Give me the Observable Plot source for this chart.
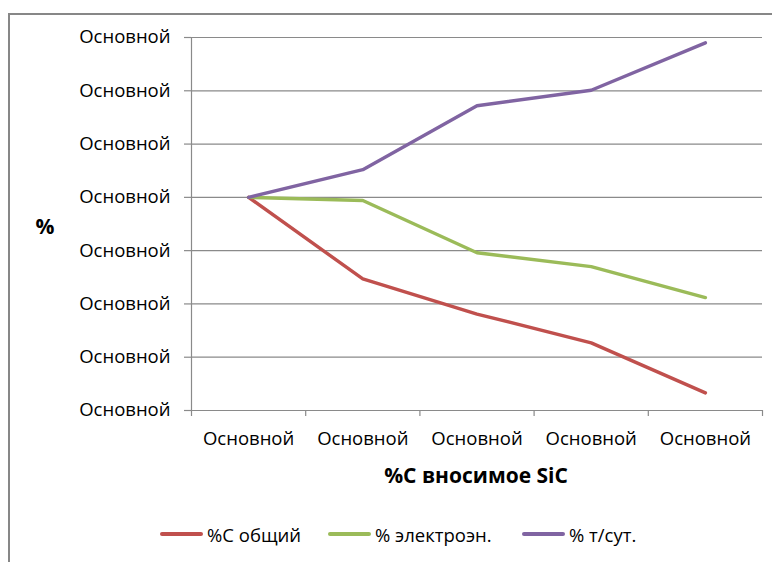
<!DOCTYPE html>
<html>
<head>
<meta charset="utf-8">
<script src="https://cdn.jsdelivr.net/npm/d3@7"></script>
<script src="https://cdn.jsdelivr.net/npm/@observablehq/plot@0.6"></script>
<style>
  html, body { margin: 0; padding: 0; width: 772px; height: 562px; overflow: hidden; background: #fff; }
  #wrap { position: relative; width: 772px; height: 562px; font-family: "Open Sans", sans-serif; }
  #frame { position: absolute; left: 8px; top: 13px; width: 900px; height: 700px; border-left: 2px solid #878787; border-top: 2px solid #878787; }
  #chart { position: absolute; left: 0; top: 0; }
  #legend { position: absolute; top: 522px; left: 0; width: 772px; height: 24px; font-size: 18.5px; color: #000; }
  .li { position: absolute; top: 0; display: flex; align-items: center; height: 24px; white-space: nowrap; }
  .sw { display: inline-block; width: 43px; height: 3.5px; margin-right: 4px; border-radius: 2px; }
</style>
</head>
<body>
<div id="wrap">
  <div id="frame"></div>
  <div id="chart"></div>
  <div id="legend"></div>
</div>
<script>
const categories = ["Основной", "Основной", "Основной", "Основной", "Основной"];
const yTickLabels = ["Основной", "Основной", "Основной", "Основной", "Основной", "Основной", "Основной", "Основной"];
const seriesNames = ["%C общий", "% электроэн.", "% т/сут."];
const seriesColors = ["#C0504D", "#9BBB59", "#8064A2"];
const cTotal = [4.0, 2.47, 1.81, 1.27, 0.33];
const electro = [4.0, 3.94, 2.96, 2.70, 2.12];
const tonsDay = [4.0, 4.52, 5.72, 6.01, 6.90];
const xTitle = "%C вносимое SiC";
const yTitle = "%";

const seriesValues = [cTotal, electro, tonsDay];
const data = [];
seriesValues.forEach((vals, s) => vals.forEach((v, i) => data.push({series: seriesNames[s], i: i + 0.5, v})));
const catData = categories.map((c, i) => ({c, i: i + 0.5}));
const yTicks = d3.range(yTickLabels.length);
const xBounds = d3.range(categories.length + 1);

const W = 772, H = 562;
const plot = Plot.plot({
  width: W, height: H,
  marginLeft: 191, marginRight: 10, marginTop: 37, marginBottom: 152,
  style: { fontFamily: "Open Sans, sans-serif", fontSize: "18px", color: "#000", background: "transparent" },
  x: { type: "linear", domain: [0, categories.length], axis: null },
  y: { type: "linear", domain: [0, yTickLabels.length - 1], axis: null },
  color: { domain: seriesNames, range: seriesColors },
  marks: [
    // horizontal gridlines
    Plot.ruleY(yTicks, { stroke: "#8a8a8a", strokeWidth: 1.2, strokeOpacity: 1 }),
    // y tick marks
    Plot.axisY(yTicks, { tickSize: 7, tickFormat: () => "", label: null, stroke: "#8a8a8a", strokeWidth: 1.2, strokeOpacity: 1 }),
    // y axis line
    Plot.ruleX([0], { stroke: "#8a8a8a", strokeWidth: 1.2, strokeOpacity: 1 }),
    // x tick marks
    Plot.axisX(xBounds, { tickSize: 6, tickFormat: () => "", label: null, stroke: "#8a8a8a", strokeWidth: 1.2, strokeOpacity: 1 }),
    // y tick labels
    Plot.text(yTicks, { x: 0, y: d => d, text: d => yTickLabels[d], textAnchor: "end", dx: -21, fill: "#000", fontSize: 18.5 }),
    // x tick labels
    Plot.text(catData, { x: "i", y: 0, text: "c", dy: 29, fill: "#000", fontSize: 18.5 }),
    // lines
    Plot.line(data, { x: "i", y: "v", z: "series", stroke: "series", strokeWidth: 3.4, strokeLinecap: "round", strokeLinejoin: "round" })
  ]
});
document.getElementById("chart").appendChild(plot);

// axis titles added into the svg
const svg = d3.select(plot);
svg.append("text").attr("x", 476).attr("y", 477).attr("text-anchor", "middle").attr("dominant-baseline", "middle")
  .attr("font-weight", "bold").attr("font-size", 21).attr("fill", "#000").text(xTitle);
svg.append("text").attr("x", 45).attr("y", 228).attr("text-anchor", "middle").attr("dominant-baseline", "middle")
  .attr("font-weight", "bold").attr("font-size", 21).attr("fill", "#000").text(yTitle);

// legend
const legendLeft = [160, 328, 522];
const leg = document.getElementById("legend");
seriesNames.forEach((n, k) => {
  const d = document.createElement("div");
  d.className = "li";
  d.style.left = legendLeft[k] + "px";
  d.innerHTML = `<span class="sw" style="background:${seriesColors[k]}"></span><span>${n}</span>`;
  leg.appendChild(d);
});
</script>
</body>
</html>
